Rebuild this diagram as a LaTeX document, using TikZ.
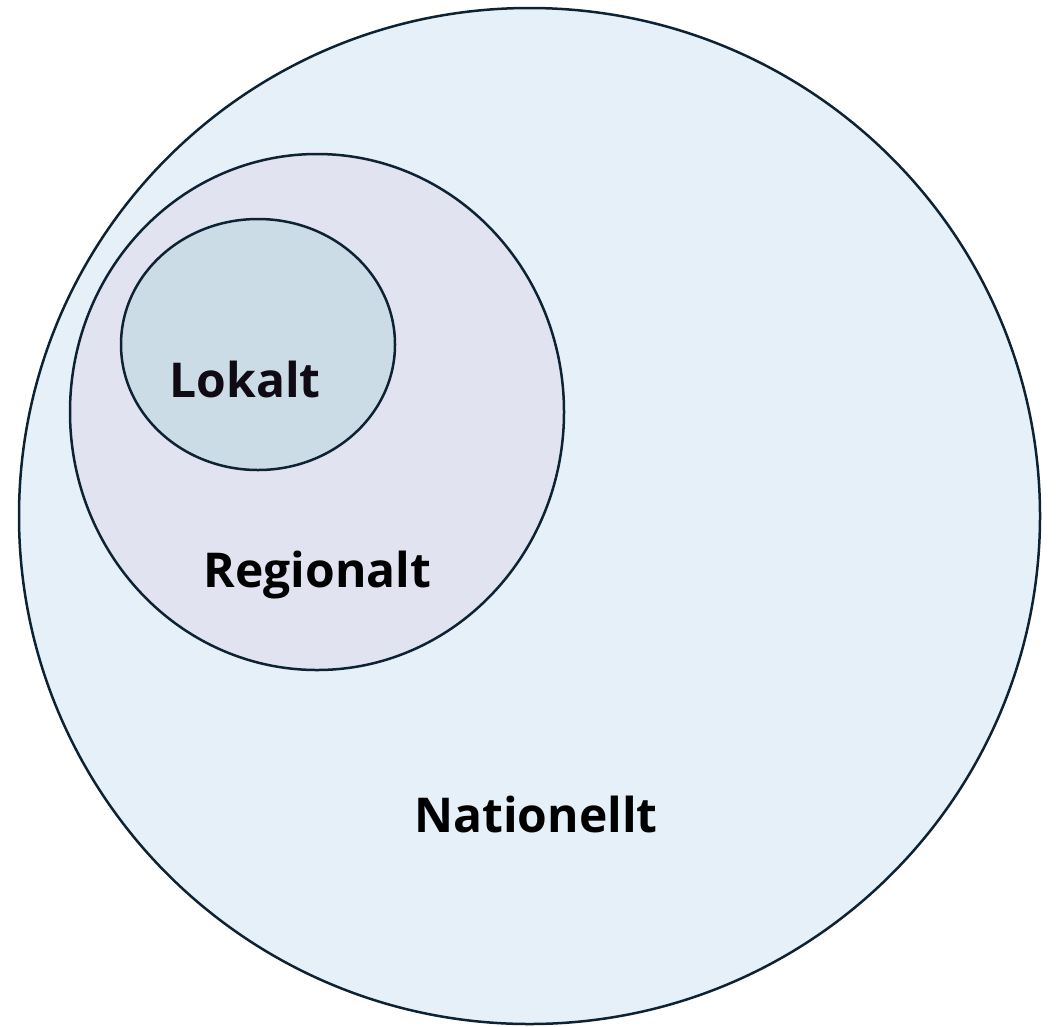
\documentclass[tikz,border=0pt]{standalone}
\usepackage{fontspec}
\setmainfont{Open Sans}
\begin{document}
\begin{tikzpicture}[x=1pt,y=-1pt,
  ring/.style={draw=ringline,line width=2.5pt},
  lbl/.style={anchor=base,font=\fontsize{48}{56}\selectfont\bfseries,inner sep=0pt}]
\definecolor{ringline}{RGB}{13,34,51}
\definecolor{natfill}{RGB}{229,240,248}
\definecolor{regfill}{RGB}{225,227,240}
\definecolor{lokfill}{RGB}{203,220,230}
\useasboundingbox (0,0) rectangle (1056,1026);
% nested areas
\draw[ring,fill=natfill] (529.5,516) ellipse [x radius=510.5, y radius=508];
\draw[ring,fill=regfill] (317,412) ellipse [x radius=247, y radius=258];
\draw[ring,fill=lokfill] (258,344.5) ellipse [x radius=137, y radius=125.5];
% labels
\node[lbl,text={rgb,255:red,15;green,10;blue,20}] (lokalt) at (245,397) {Lokalt};
\node[lbl] (regionalt) at (317.5,587) {Regionalt};
\node[lbl] (nationellt) at (536,832) {Nationellt};
\end{tikzpicture}
\end{document}
